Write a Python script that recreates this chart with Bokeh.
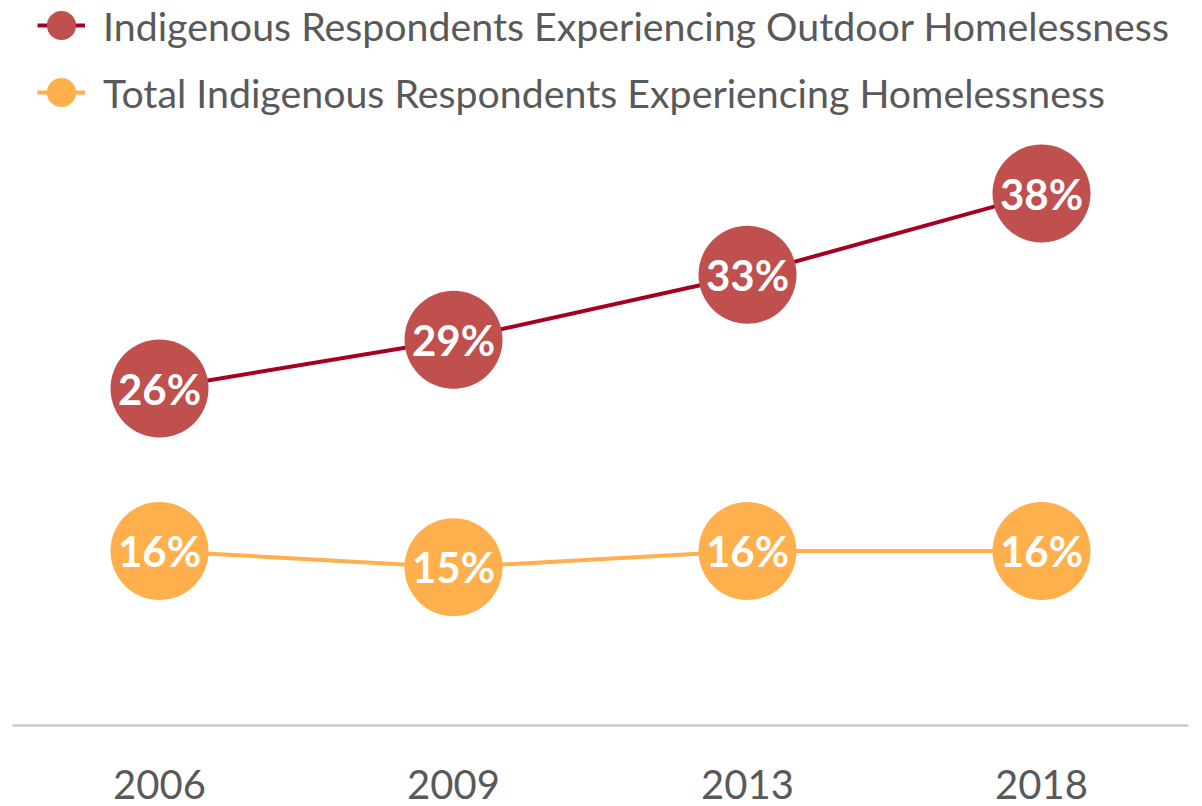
from bokeh.plotting import figure
from bokeh.models import ColumnDataSource, Range1d, FactorRange, Legend, LegendItem
from bokeh.core.properties import value
from bokeh.embed import file_html
from bokeh.resources import INLINE

years = ["2006", "2009", "2013", "2018"]
outdoor = [26, 29, 33, 38]
total = [16, 15, 16, 16]
outdoor_name = "Indigenous Respondents Experiencing Outdoor Homelessness"
total_name = "Total Indigenous Respondents Experiencing Homelessness"

FONT = "Lato"
GRAY = "#595959"
RED_LINE, RED_DOT = "#A50021", "#C0504D"
ORANGE = "#FFB04C"

src_o = ColumnDataSource(dict(x=years, y=outdoor, lab=[f"{v}%" for v in outdoor]))
src_t = ColumnDataSource(dict(x=years, y=total, lab=[f"{v}%" for v in total]))
# key-only source: one point with no y value, so nothing is drawn in the plot area
key_src = ColumnDataSource(dict(x=[years[0]], y=[float("nan")]))

p = figure(width=1202, height=806, output_backend="svg", toolbar_location=None,
           x_range=FactorRange(*years), y_range=Range1d(5.26, 49.88),
           min_border_left=12, min_border_right=14, min_border_top=0, min_border_bottom=81)
p.outline_line_color = None
p.xgrid.visible = False
p.ygrid.visible = False
p.yaxis.visible = False
p.background_fill_color = "white"

lo = p.line("x", "y", source=src_o, line_color=RED_LINE, line_width=4)
p.scatter("x", "y", source=src_o, size=98, fill_color=RED_DOT, line_color=None)
lt = p.line("x", "y", source=src_t, line_color=ORANGE, line_width=4)
p.scatter("x", "y", source=src_t, size=98, fill_color=ORANGE, line_color=None)

ko = p.scatter("x", "y", source=key_src, fill_color=RED_DOT, line_color=RED_DOT, line_width=10)
kt = p.scatter("x", "y", source=key_src, fill_color=ORANGE, line_color=ORANGE, line_width=10)

for s in (src_o, src_t):
    p.text("x", "y", text="lab", source=s, text_color="white", text_font=value(FONT),
           text_font_style="bold", text_font_size="42px", text_align="center",
           text_baseline="middle")

ax = p.xaxis[0]
ax.axis_line_color = "#BFBFBF"
ax.axis_line_width = 2
ax.major_tick_line_color = None
ax.minor_tick_line_color = None
ax.major_label_text_font = FONT
ax.major_label_text_font_size = "40px"
ax.major_label_text_color = GRAY
ax.major_label_standoff = 38

legend = Legend(items=[LegendItem(label=outdoor_name, renderers=[lo, ko]),
                       LegendItem(label=total_name, renderers=[lt, kt])],
                location=(25, 608), orientation="vertical",
                label_text_font=FONT, label_text_font_size="39.3px", label_text_color=GRAY,
                glyph_width=48, glyph_height=50, label_height=50, spacing=17,
                label_standoff=18, padding=0, margin=0,
                border_line_color=None, background_fill_alpha=0)
p.add_layout(legend)

open("out.html", "w").write(file_html(p, INLINE))
